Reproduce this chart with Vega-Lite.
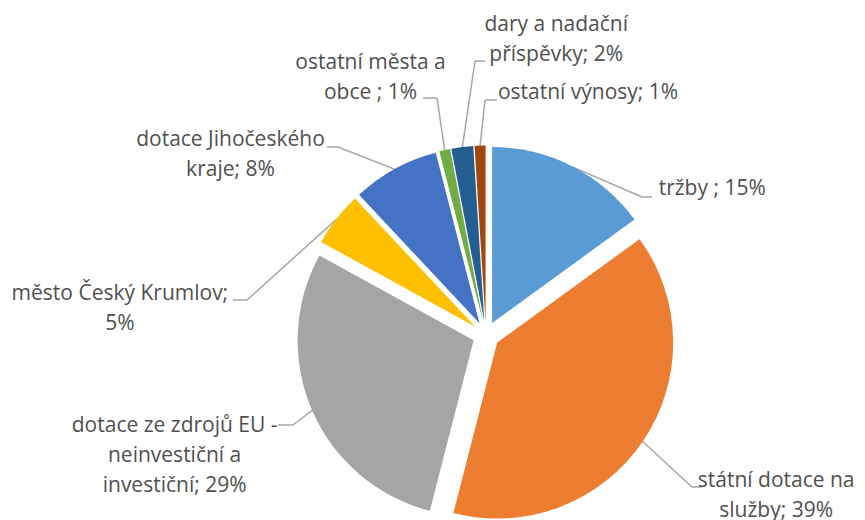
{
  "$schema": "https://vega.github.io/schema/vega-lite/v6.json",
  "width": 865,
  "height": 520,
  "autosize": {"type": "none"},
  "padding": 0,
  "background": "white",
  "view": {"stroke": null},
  "data": {
    "values": [
      {"order": 0, "name": "tržby", "value": 15, "text": "tržby ; 15%"},
      {"order": 1, "name": "státní dotace na služby", "value": 39, "text": "státní dotace na\nslužby; 39%"},
      {"order": 2, "name": "dotace ze zdrojů EU - neinvestiční a investiční", "value": 29, "text": "dotace ze zdrojů EU -\nneinvestiční a\ninvestiční; 29%"},
      {"order": 3, "name": "město Český Krumlov", "value": 5, "text": "město Český Krumlov;\n5%"},
      {"order": 4, "name": "dotace Jihočeského kraje", "value": 8, "text": "dotace Jihočeského\nkraje; 8%"},
      {"order": 5, "name": "ostatní města a obce", "value": 1, "text": "ostatní města a\nobce ; 1%"},
      {"order": 6, "name": "dary a nadační příspěvky", "value": 2, "text": "dary a nadační\npříspěvky; 2%"},
      {"order": 7, "name": "ostatní výnosy", "value": 1, "text": "ostatní výnosy; 1%"}
    ]
  },
  "layer": [
    {
      "transform": [{"stack": "value", "groupby": [], "sort": [{"field": "order", "order": "ascending"}], "as": ["v0", "v1"]}],
      "mark": {"type": "rule", "color": "#A6A6A6", "strokeWidth": 1.5},
      "encoding": {
        "x": {"value": {"expr": "486 + 189*sin(scale('theta', (datum.v0 + datum.v1)/2))"}},
        "y": {"value": {"expr": "335 - 189*cos(scale('theta', (datum.v0 + datum.v1)/2))"}},
        "x2": {"value": {"expr": "[642, 692, 293, 247, 338, 437, 475, 485][datum.order]"}},
        "y2": {"value": {"expr": "[197, 487, 425, 300, 147, 98, 61, 100][datum.order]"}}
      }
    },
    {
      "mark": {"type": "rule", "color": "#A6A6A6", "strokeWidth": 1.5},
      "encoding": {
        "x": {"value": {"expr": "[642, 692, 293, 247, 338, 437, 475, 485][datum.order]"}},
        "y": {"value": {"expr": "[197, 487, 425, 300, 147, 98, 61, 100][datum.order]"}},
        "x2": {"value": {"expr": "[652, 702, 278, 233, 327, 423, 485, 497][datum.order]"}},
        "y2": {"value": {"expr": "[197, 487, 425, 300, 147, 98, 61, 100][datum.order]"}}
      }
    },
    {
      "mark": {"type": "arc", "outerRadius": 176},
      "encoding": {
        "theta": {"field": "value", "type": "quantitative", "stack": true},
        "order": {"field": "order", "type": "quantitative"},
        "x": {"value": {"expr": "486 + 13.5*sin((scale('theta', datum.value_start) + scale('theta', datum.value_end))/2)"}},
        "y": {"value": {"expr": "335 - 13.5*cos((scale('theta', datum.value_start) + scale('theta', datum.value_end))/2)"}},
        "color": {
          "field": "name",
          "type": "nominal",
          "legend": null,
          "scale": {
            "domain": ["tržby", "státní dotace na služby", "dotace ze zdrojů EU - neinvestiční a investiční", "město Český Krumlov", "dotace Jihočeského kraje", "ostatní města a obce", "dary a nadační příspěvky", "ostatní výnosy"],
            "range": ["#5B9BD5", "#ED7D31", "#A5A5A5", "#FFC000", "#4472C4", "#70AD47", "#255E91", "#9E480E"]
          }
        }
      }
    },
    {
      "mark": {
        "type": "text",
        "radius": 190,
        "font": "Open Sans",
        "fontSize": 21,
        "color": "#505050",
        "lineBreak": "\n",
        "lineHeight": 30,
        "align": "center",
        "baseline": "middle",
        "dx": {"expr": "[140, 133, -137, -216, -164, -74, 94, 108][datum.order]"},
        "dy": {"expr": "[23, 39, 16, 75.5, -28.6, -87, -121, -51.6][datum.order]"}
      },
      "encoding": {
        "theta": {"field": "value", "type": "quantitative", "stack": true},
        "order": {"field": "order", "type": "quantitative"},
        "x": {"value": 486},
        "y": {"value": 335},
        "text": {"field": "text", "type": "nominal"}
      }
    }
  ]
}
